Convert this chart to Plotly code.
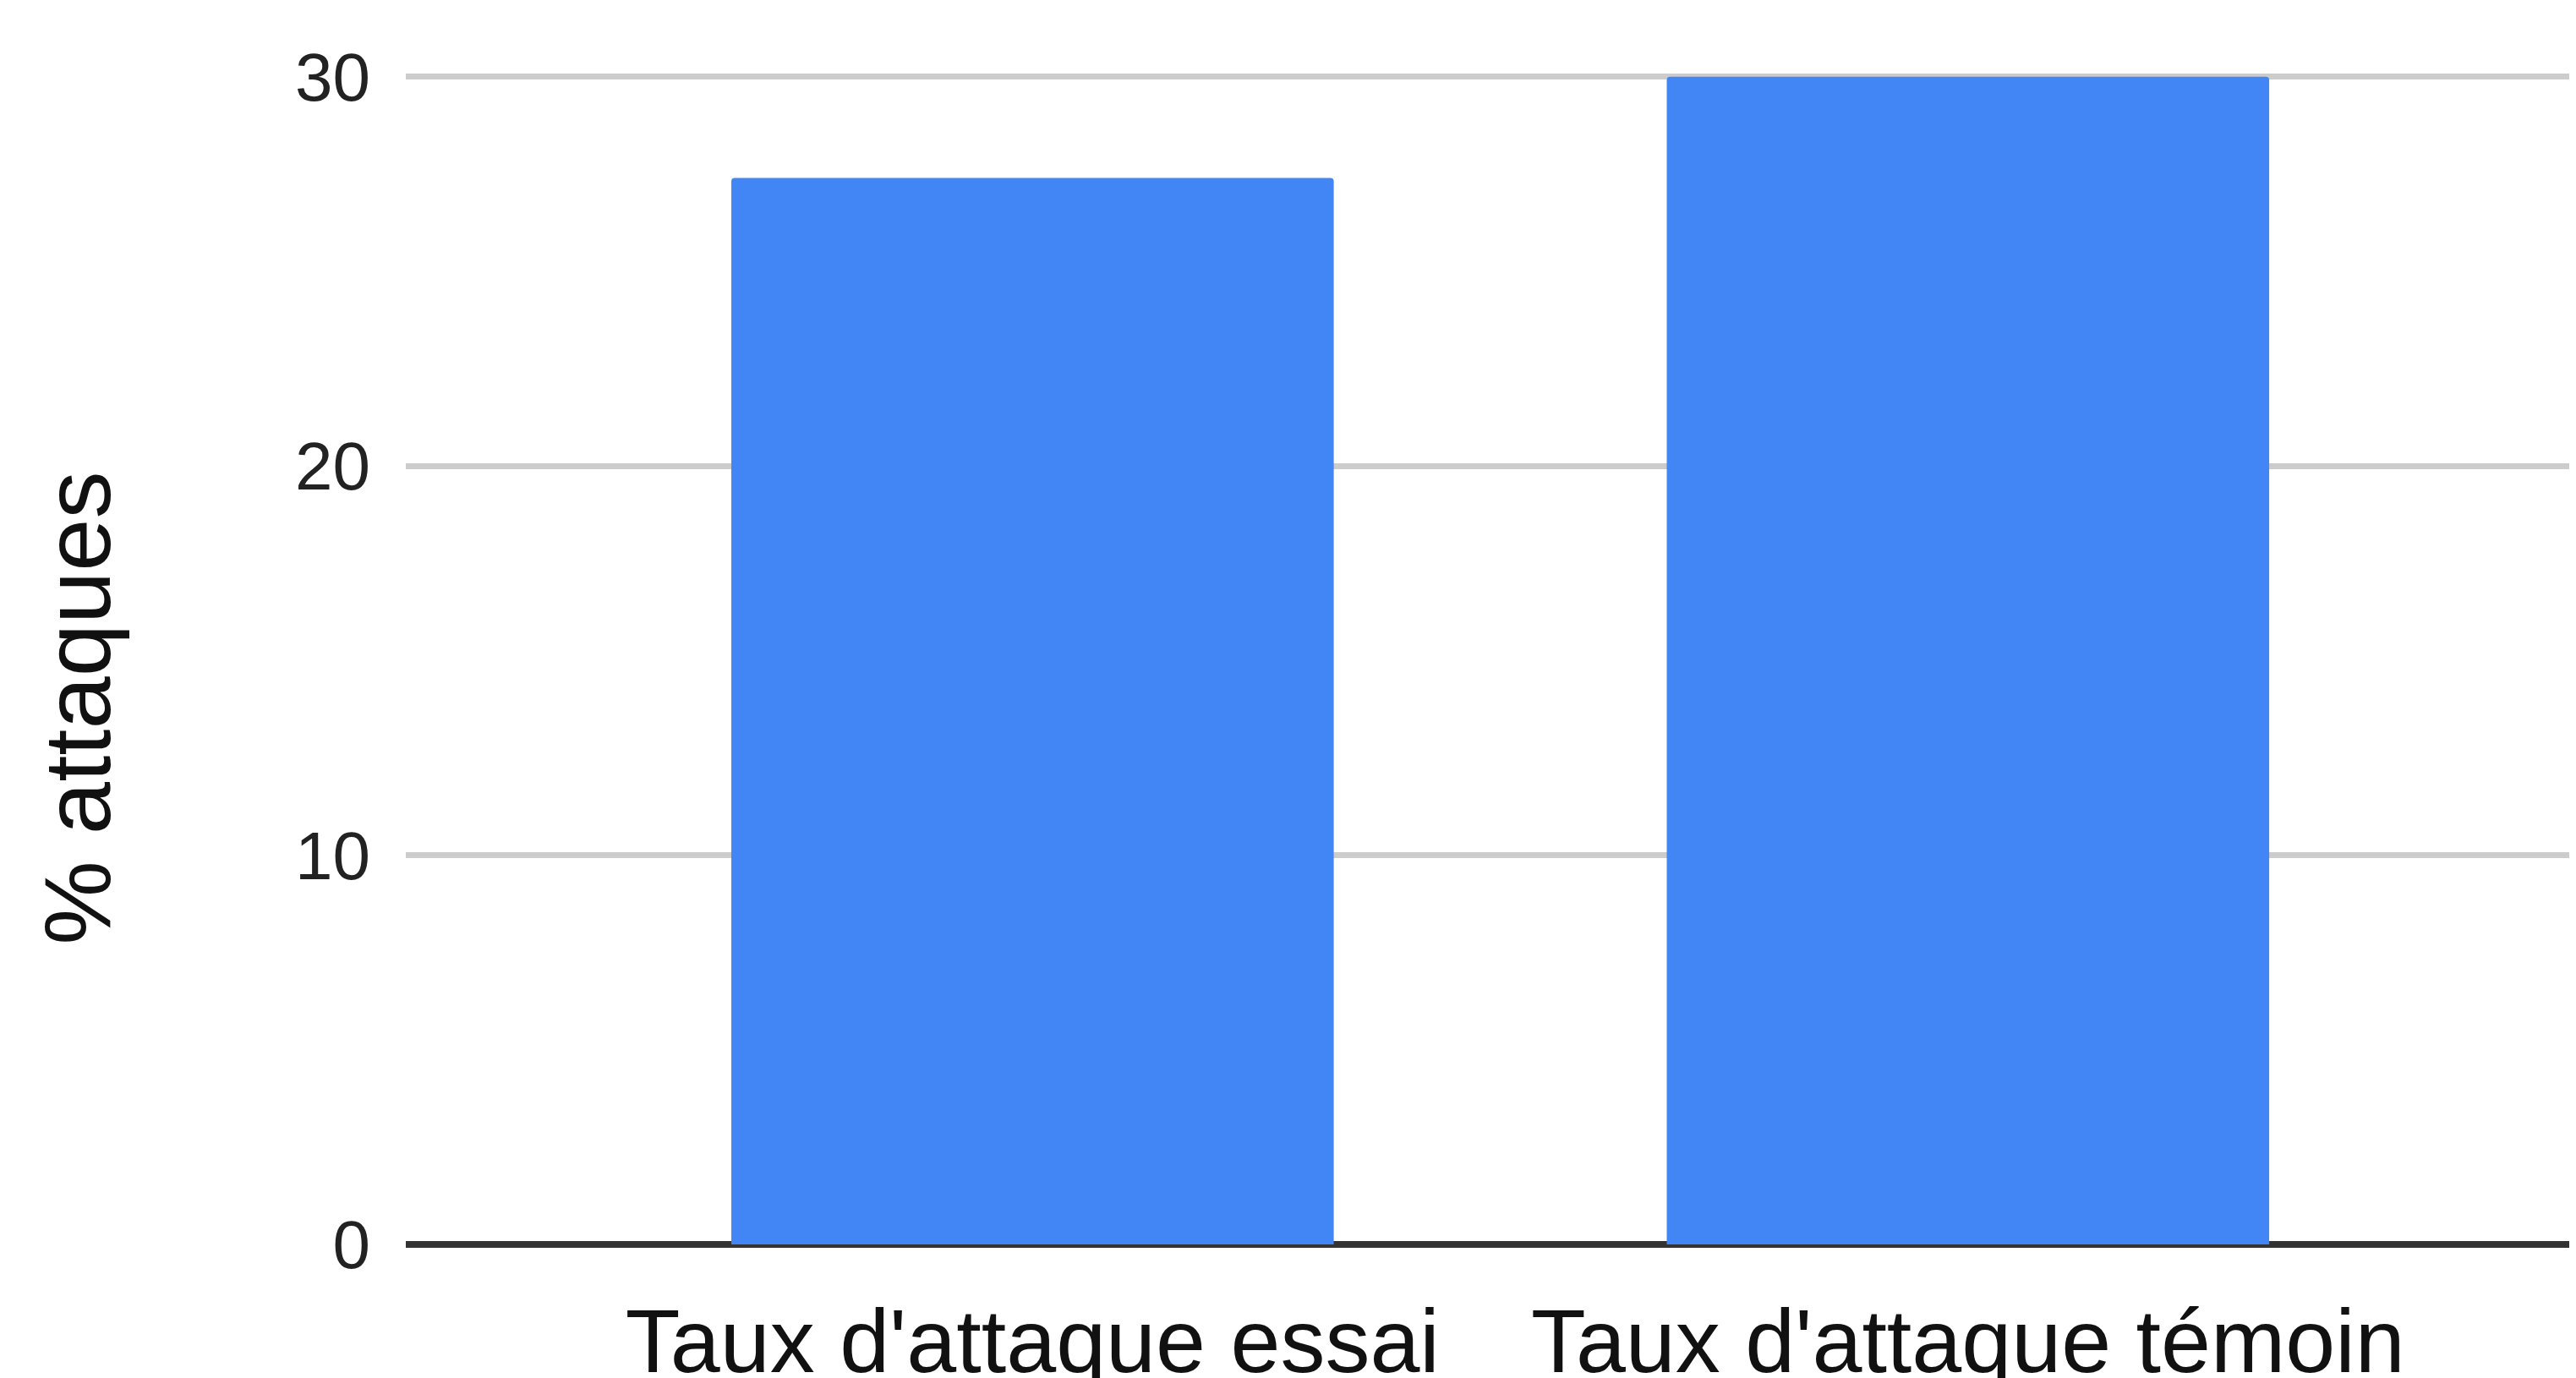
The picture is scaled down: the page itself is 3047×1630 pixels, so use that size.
import plotly.graph_objects as go

categories = ["Taux d'attaque essai", "Taux d'attaque témoin"]
values = [27.4, 30.0]
y_ticks = [0, 10, 20, 30]
y_title = "% attaques"

FONT = "Liberation Sans, Arial, sans-serif"
# the page body adds an 8px margin on the top and left
W, H = 3039, 1622
L, R, T, B = 472, 0, 69, 158

fig = go.Figure(
    go.Bar(
        x=categories,
        y=values,
        marker=dict(color="#4285F4", line=dict(width=0), cornerradius=4),
        width=0.644,
    )
)

fig.update_layout(
    width=W,
    height=H,
    margin=dict(l=L, r=R, t=T, b=B, autoexpand=False),
    plot_bgcolor="white",
    paper_bgcolor="white",
    showlegend=False,
    font=dict(family=FONT, color="#222222"),
    annotations=[
        dict(
            text=y_title,
            textangle=-90,
            xref="paper",
            yref="paper",
            x=-0.1512,
            y=0.4545,
            xanchor="center",
            yanchor="middle",
            showarrow=False,
            font=dict(family=FONT, size=112, color="#111111"),
        )
    ],
)

fig.update_xaxes(
    automargin=False,
    range=[-0.670, 1.650],
    showgrid=False,
    showline=False,
    zeroline=False,
    ticks="",
    tickfont=dict(family=FONT, size=106, color="#111111"),
    ticklabelstandoff=44,
)

fig.update_yaxes(
    automargin=False,
    range=[0, 30.3],
    tickvals=y_ticks,
    ticktext=[str(v) for v in y_ticks],
    showgrid=True,
    gridcolor="#cccccc",
    gridwidth=7,
    zeroline=True,
    zerolinecolor="#333333",
    zerolinewidth=8,
    showline=False,
    ticks="",
    ticklabelstandoff=41,
    tickfont=dict(family=FONT, size=80, color="#222222"),
)

fig.write_html("out.html")
